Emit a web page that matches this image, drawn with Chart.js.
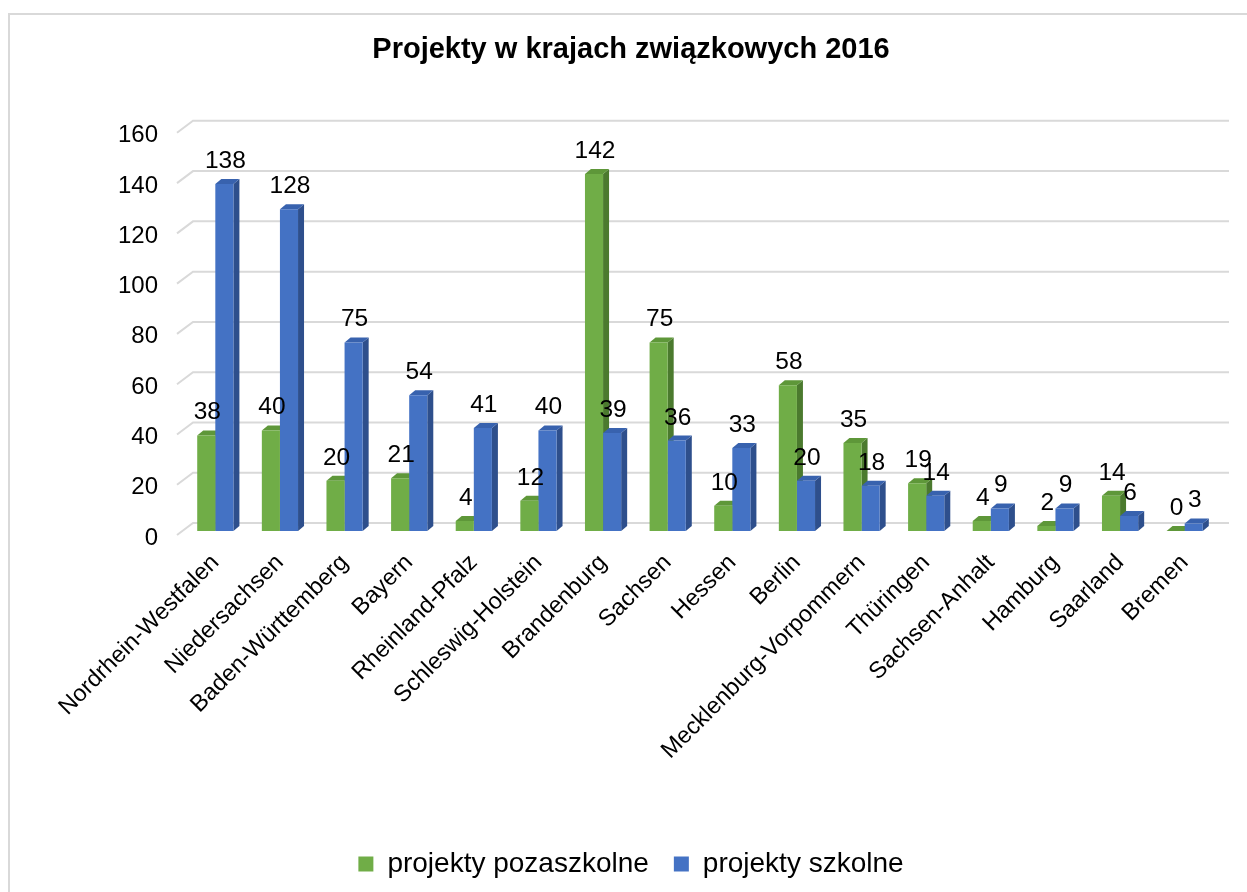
<!DOCTYPE html>
<html>
<head>
<meta charset="utf-8">
<script src="https://cdn.jsdelivr.net/npm/chart.js@4"></script>
<style>
  html, body { margin: 0; padding: 0; background: #fff; overflow: hidden; }
  #wrap { position: relative; width: 1247px; height: 892px; }
  #ramka { position: absolute; left: 8px; top: 13px; width: 1300px; height: 950px; border: 2px solid #d9d9d9; box-sizing: border-box; }
  #wykres { position: absolute; left: 0; top: 0; }
</style>
</head>
<body>
<div id="wrap">
  <div id="ramka"></div>
  <canvas id="wykres" width="1247" height="892"></canvas>
</div>
<script>
var kraje = ["Nordrhein-Westfalen", "Niedersachsen", "Baden-Württemberg", "Bayern", "Rheinland-Pfalz",
  "Schleswig-Holstein", "Brandenburg", "Sachsen", "Hessen", "Berlin", "Mecklenburg-Vorpommern",
  "Thüringen", "Sachsen-Anhalt", "Hamburg", "Saarland", "Bremen"];
var pozaszkolne = [38, 40, 20, 21, 4, 12, 142, 75, 10, 58, 35, 19, 4, 2, 14, 0];
var szkolne = [138, 128, 75, 54, 41, 40, 39, 36, 33, 20, 18, 14, 9, 9, 6, 3];
var osY = [0, 20, 40, 60, 80, 100, 120, 140, 160];

var czcionka = "'Liberation Sans', Arial, sans-serif";
var glebokosc = 6, wzniesienie = 5;

// siatka "3D" i boczne sciany slupkow, rysowane przed frontami
var tlo3d = {
  id: "tlo3d",
  beforeDatasetsDraw(chart) {
    var ctx = chart.ctx;
    var y = chart.scales.y;
    var area = chart.chartArea;
    ctx.save();
    ctx.strokeStyle = "#d9d9d9";
    ctx.lineWidth = 2;
    osY.forEach(function (v) {
      var py = y.getPixelForValue(v);
      ctx.beginPath();
      ctx.moveTo(area.left - 6, py + 4);
      ctx.lineTo(area.left + 10, py - 8);
      ctx.lineTo(area.right + 12, py - 8);
      ctx.stroke();
    });
    chart.data.datasets.forEach(function (ds, i) {
      var meta = chart.getDatasetMeta(i);
      meta.data.forEach(function (bar) {
        var l = bar.x - bar.width / 2, r = bar.x + bar.width / 2;
        var t = bar.y, b = bar.base;
        ctx.fillStyle = ds.bokKolor;
        ctx.beginPath();
        ctx.moveTo(r, t);
        ctx.lineTo(r + glebokosc, t - wzniesienie);
        ctx.lineTo(r + glebokosc, b - wzniesienie);
        ctx.lineTo(r, b);
        ctx.closePath();
        ctx.fill();
        ctx.fillStyle = ds.goraKolor;
        ctx.beginPath();
        ctx.moveTo(l, t);
        ctx.lineTo(l + glebokosc, t - wzniesienie);
        ctx.lineTo(r + glebokosc, t - wzniesienie);
        ctx.lineTo(r, t);
        ctx.closePath();
        ctx.fill();
      });
    });
    ctx.restore();
  },
  afterDatasetsDraw(chart) {
    var ctx = chart.ctx;
    ctx.save();
    ctx.fillStyle = "#000";
    ctx.font = "24.5px " + czcionka;
    ctx.textAlign = "center";
    ctx.textBaseline = "alphabetic";
    chart.data.datasets.forEach(function (ds, i) {
      var meta = chart.getDatasetMeta(i);
      meta.data.forEach(function (bar, j) {
        ctx.fillText(ds.data[j], bar.x + 1, bar.y - 16);
      });
    });
    ctx.restore();
  }
};

new Chart(document.getElementById("wykres"), {
  type: "bar",
  data: {
    labels: kraje,
    datasets: [{
      label: "projekty pozaszkolne",
      data: pozaszkolne,
      backgroundColor: "#70ad47",
      bokKolor: "#4b7a2e",
      goraKolor: "#5e9739",
      borderWidth: 0
    }, {
      label: "projekty szkolne",
      data: szkolne,
      backgroundColor: "#4472c4",
      bokKolor: "#2e4f8c",
      goraKolor: "#3862ae",
      borderWidth: 0
    }]
  },
  options: {
    responsive: false,
    animation: false,
    categoryPercentage: 0.56,
    barPercentage: 1.0,
    layout: { padding: { left: 45, right: 30, top: 0, bottom: 4 } },
    plugins: {
      title: {
        display: true,
        text: "Projekty w krajach związkowych 2016",
        color: "#000",
        font: { family: czcionka, size: 29, weight: "bold" },
        padding: { top: 33, bottom: 61 }
      },
      legend: {
        position: "bottom",
        labels: {
          color: "#000",
          font: { family: czcionka, size: 28 },
          boxWidth: 15,
          boxHeight: 15,
          padding: 25
        }
      },
      tooltip: { enabled: false }
    },
    scales: {
      x: {
        grid: { display: false },
        border: { display: false },
        ticks: {
          color: "#000",
          font: { family: czcionka, size: 23.5 },
          minRotation: 45,
          maxRotation: 45,
          autoSkip: false,
          padding: 10
        },
        afterFit: function (s) { s.height = 294; }
      },
      y: {
        min: 0,
        max: 160,
        grid: { display: false },
        border: { display: false },
        ticks: {
          stepSize: 20,
          color: "#000",
          font: { family: czcionka, size: 24, lineHeight: 0.58 },
          padding: 17,
          // pusta pierwsza linia przesuwa opis o pol linii w dol, jak w oryginale
          callback: function (v) { return ["", String(v)]; }
        },
        afterFit: function (s) { s.width = 138; }
      }
    }
  },
  plugins: [tlo3d]
});
</script>
</body>
</html>
